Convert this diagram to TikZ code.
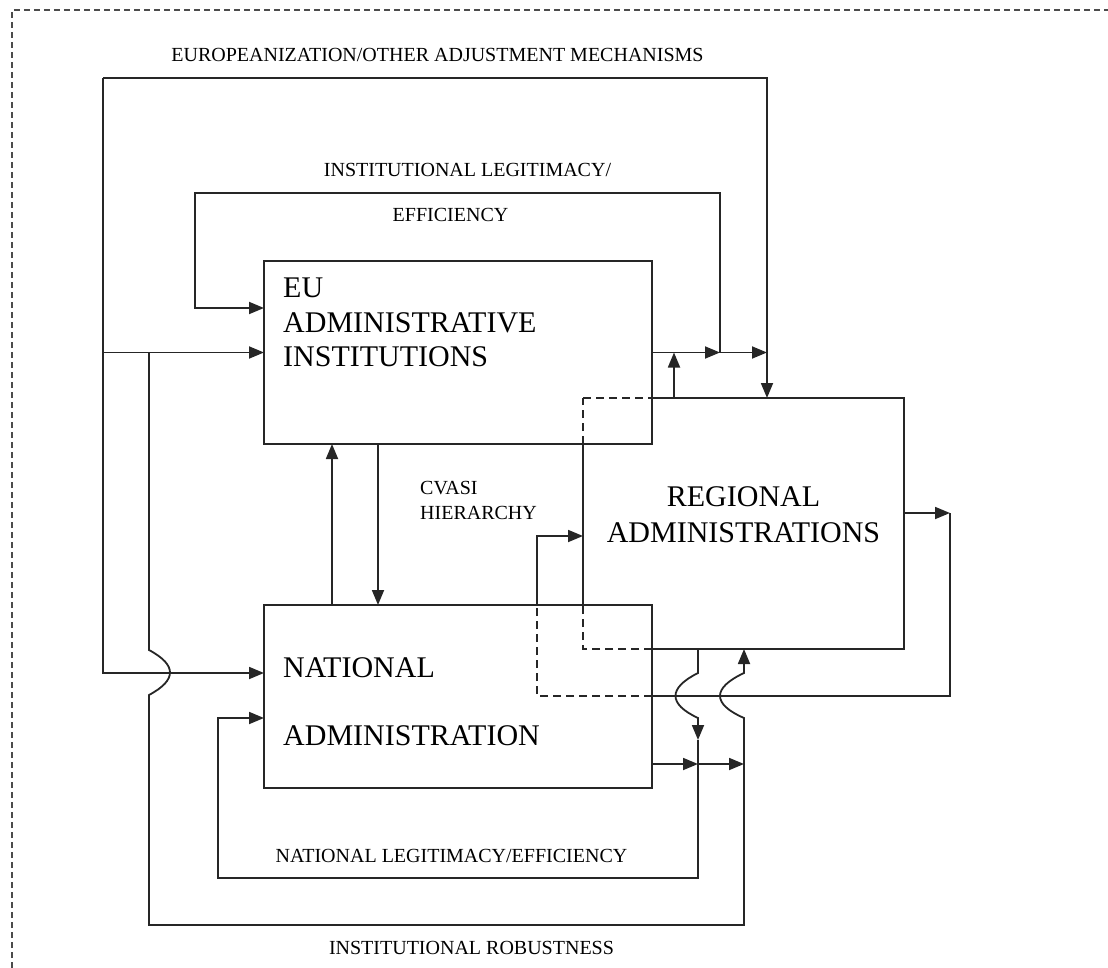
\documentclass[tikz,border=0pt]{standalone}
\usepackage{fontspec}
\setmainfont{Liberation Serif}
\usetikzlibrary{arrows.meta}
\begin{document}
\begin{tikzpicture}[x=1pt,y=-1pt,
  ln/.style={line width=1.8pt, draw=black!85},
  arr/.style={ln, -{Triangle[length=15pt,width=12pt]}},
  dsh/.style={ln, dash pattern=on 8pt off 5pt},
  box/.style={ln, draw, rectangle, inner sep=0pt, outer sep=0pt},
  hidden/.style={draw=none, rectangle, inner sep=0pt, outer sep=0pt},
  lbl/.style={font=\fontsize{20}{24}\selectfont, inner sep=0pt, anchor=base},
  ttl/.style={font=\fontsize{30}{34}\selectfont, inner sep=0pt, anchor=base west}]
\useasboundingbox (0,0) rectangle (1108,968);
\draw[draw=black!70, line width=1.3pt, dash pattern=on 6pt off 4pt] (12,968) -- (12,10) -- (1108,10);

% boxes
\node[box, minimum width=388pt, minimum height=183pt] (eu) at (458,352.5) {};
\node[box, minimum width=388pt, minimum height=183pt] (nat) at (458,696.5) {};
\node[hidden, minimum width=321pt, minimum height=251pt] (reg) at (743.5,523.5) {};

% regional box border (dashed where overlapping)
\draw[dsh] (reg.north west) -- (reg.north west -| eu.east);
\draw[ln] (reg.north west -| eu.east) -- (reg.north east) -- (reg.south east) -- (reg.south west -| nat.east);
\draw[dsh] (reg.south west -| nat.east) -- (reg.south west) -- (reg.west |- nat.north);
\draw[ln] (reg.west |- nat.north) -- (reg.west |- eu.south);
\draw[dsh] (reg.west |- eu.south) -- (reg.north west);

% box titles
\node[ttl] (tEU1) at (283,298) {EU};
\node[ttl] (tEU2) at (283,332) {ADMINISTRATIVE};
\node[ttl] (tEU3) at (283,366) {INSTITUTIONS};
\node[ttl, anchor=base] (tR1) at (743.5,506) {REGIONAL};
\node[ttl, anchor=base] (tR2) at (743.5,542) {ADMINISTRATIONS};
\node[ttl] (tN1) at (283,677) {NATIONAL};
\node[ttl] (tN2) at (283,745) {ADMINISTRATION};

% labels
\node[lbl] (lEur) at (437.5,61.6) {EUROPEANIZATION/OTHER ADJUSTMENT MECHANISMS};
\node[lbl] (lIL1) at (467.5,176.6) {INSTITUTIONAL LEGITIMACY/};
\node[lbl] (lIL2) at (450.5,221.6) {EFFICIENCY};
\node[lbl, anchor=base west] (lCv1) at (420,494.6) {CVASI};
\node[lbl, anchor=base west] (lCv2) at (420,519.6) {HIERARCHY};
\node[lbl] (lNL) at (451.5,862.6) {NATIONAL LEGITIMACY/EFFICIENCY};
\node[lbl] (lIR) at (471.5,954.6) {INSTITUTIONAL ROBUSTNESS};

% Europeanization loop
\coordinate (eTL) at (103,78);
\coordinate (eTR) at (767,78);
\draw[arr] (eTL) -- (eTR) -- (reg.north -| eTR);
\draw[arr] (eTL) -- (103,673) -- (nat.west |- 0,673);
\draw[arr] (103,352.5) -- (eu.west);

% EU output
\coordinate (j1) at (720,352.5);
\coordinate (j2) at (767,352.5);
\draw[arr] (eu.east) -- (j1);
\draw[arr] (j1) -- (j2);
% institutional legitimacy loop
\draw[arr] (j1) -- (720,193) -- (195,193) -- (195,308) -- (eu.west |- 0,308);
% regional up to EU output line
\draw[arr] (reg.north -| 674,0) -- (674,352.5);

% institutional robustness loop
\draw[arr] (149,352.5) -- (149,650) .. controls (177,665) and (177,680) .. (149,695) -- (149,925) -- (744,925) -- (744,718) .. controls (712,704) and (712,688) .. (744,673) -- (reg.south -| 744,0);

% EU <-> National
\draw[arr] (nat.north -| 332,0) -- (eu.south -| 332,0);
\draw[arr] (eu.south -| 378,0) -- (nat.north -| 378,0);

% regional output loop to regional input
\coordinate (r1) at (950,513);
\draw[arr] (reg.east |- r1) -- (r1);
\draw[ln] (r1) -- (950,696) -- (nat.east |- 0,696);
\draw[dsh] (nat.east |- 0,696) -- (537,696) -- (nat.north -| 537,0);
\draw[arr] (nat.north -| 537,0) -- (537,536) -- (reg.west |- 0,536);

% national output
\coordinate (k1) at (698,764);
\coordinate (k2) at (744,764);
\draw[arr] (nat.east |- k1) -- (k1);
\draw[arr] (k1) -- (k2);
% national legitimacy loop
\coordinate (k3) at (698,740);
\draw[arr] (reg.south -| 698,0) -- (698,673) .. controls (668,688) and (668,704) .. (698,718) -- (k3);
\draw[arr] (k3) -- (698,878) -- (218,878) -- (218,718) -- (nat.west |- 0,718);
\end{tikzpicture}
\end{document}
